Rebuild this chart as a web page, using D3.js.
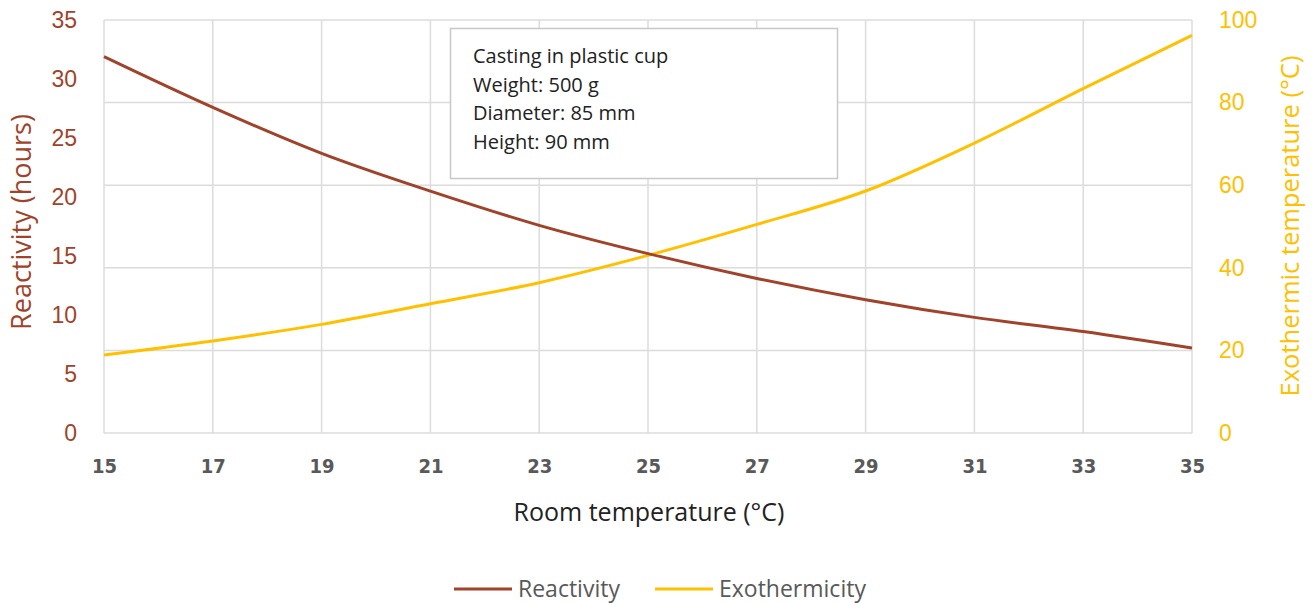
<!DOCTYPE html>
<html><head><meta charset="utf-8">
<script src="https://cdn.jsdelivr.net/npm/d3@7"></script>
<style>
html,body{margin:0;padding:0;background:#fff;}
svg{display:block;font-family:"Open Sans","Noto Sans",sans-serif;}
</style></head>
<body>
<svg id="chart" width="1314" height="603"></svg>
<script>
const roomTemps = [15,17,19,21,23,25,27,29,31,33,35];
const reactivity = [31.9,27.6,23.7,20.5,17.6,15.2,13.1,11.3,9.8,8.6,7.2];
const exothermicity = [18.9,22.3,26.3,31.3,36.4,43.0,50.5,58.6,70.2,83.4,96.3];
const xTicks = [15,17,19,21,23,25,27,29,31,33,35];
const leftTicks = [0,5,10,15,20,25,30,35];
const rightTicks = [0,20,40,60,80,100];
const noteLines = ["Casting in plastic cup","Weight: 500 g","Diameter: 85 mm","Height: 90 mm"];
const seriesNames = ["Reactivity","Exothermicity"];

const svg = d3.select("#chart");
const m = {left:104, right:1192, top:20, bottom:433};
const brown = "#A0432A", yellow = "#FFC000", grid = "#DCDCDC", gray = "#595959";

const x = d3.scaleLinear().domain([15,35]).range([m.left,m.right]);
const yL = d3.scaleLinear().domain([0,35]).range([m.bottom,m.top]);
const yR = d3.scaleLinear().domain([0,100]).range([m.bottom,m.top]);

// gridlines
const g = svg.append("g");
g.selectAll("line.v").data(xTicks).join("line")
  .attr("x1",d=>x(d)).attr("x2",d=>x(d)).attr("y1",m.top).attr("y2",m.bottom)
  .attr("stroke",grid).attr("stroke-width",1.5);
g.selectAll("line.h").data(rightTicks).join("line")
  .attr("x1",m.left).attr("x2",m.right).attr("y1",d=>yR(d)).attr("y2",d=>yR(d))
  .attr("stroke",grid).attr("stroke-width",1.5);

// axes
const xAxis = svg.append("g").attr("transform",`translate(0,${m.bottom})`)
  .call(d3.axisBottom(x).tickValues(xTicks).tickSize(0).tickPadding(24).tickFormat(d3.format("d")));
xAxis.select(".domain").remove();
xAxis.selectAll("text").attr("fill",gray).attr("font-size",20).attr("font-weight","bold")
  .attr("font-family","'Liberation Sans Narrow','DejaVu Sans Condensed','Open Sans',sans-serif")
  .attr("dy","0.32em").attr("y",34);

const lAxis = svg.append("g").attr("transform",`translate(${m.left},0)`)
  .call(d3.axisLeft(yL).tickValues(leftTicks).tickSize(0).tickPadding(27));
lAxis.select(".domain").remove();
lAxis.selectAll("text").attr("fill",brown).attr("font-size",23).attr("font-weight",500);

const rAxis = svg.append("g").attr("transform",`translate(${m.right},0)`)
  .call(d3.axisRight(yR).tickValues(rightTicks).tickSize(0).tickPadding(27));
rAxis.select(".domain").remove();
rAxis.selectAll("text").attr("fill",yellow).attr("font-size",23).attr("font-weight",500);

// axis titles
svg.append("text").attr("transform",`translate(31,222) rotate(-90)`)
  .attr("text-anchor","middle").attr("fill",brown).attr("font-size",27).text("Reactivity (hours)");
svg.append("text").attr("transform",`translate(1299,226) rotate(-90)`)
  .attr("text-anchor","middle").attr("fill",yellow).attr("font-size",25.5).text("Exothermic temperature (°C)");
svg.append("text").attr("x",649).attr("y",521).attr("text-anchor","middle")
  .attr("fill","#222").attr("font-size",25).text("Room temperature (°C)");

// lines
const lineL = d3.line().x((d,i)=>x(roomTemps[i])).y(d=>yL(d)).curve(d3.curveMonotoneX);
const lineR = d3.line().x((d,i)=>x(roomTemps[i])).y(d=>yR(d)).curve(d3.curveMonotoneX);
svg.append("path").datum(exothermicity).attr("d",lineR).attr("fill","none").attr("stroke",yellow).attr("stroke-width",3);
svg.append("path").datum(reactivity).attr("d",lineL).attr("fill","none").attr("stroke",brown).attr("stroke-width",3);

// annotation box
const box = svg.append("g");
box.append("rect").attr("x",450.5).attr("y",28.5).attr("width",387).attr("height",150)
  .attr("fill","#fff").attr("stroke","#C8C8C8").attr("stroke-width",1.5);
box.selectAll("text").data(noteLines).join("text")
  .attr("x",473).attr("y",(d,i)=>63+i*28.5).attr("font-size",20).attr("fill","#222").text(d=>d);

// legend
const legend = svg.append("g");
const legItems = [{name:seriesNames[0],color:brown,x:454},{name:seriesNames[1],color:yellow,x:655}];
legItems.forEach(it=>{
  legend.append("line").attr("x1",it.x).attr("x2",it.x+58).attr("y1",589).attr("y2",589)
    .attr("stroke",it.color).attr("stroke-width",3);
  legend.append("text").attr("x",it.x+64).attr("y",597).attr("font-size",23).attr("fill",gray).text(it.name);
});
</script>
</body></html>
